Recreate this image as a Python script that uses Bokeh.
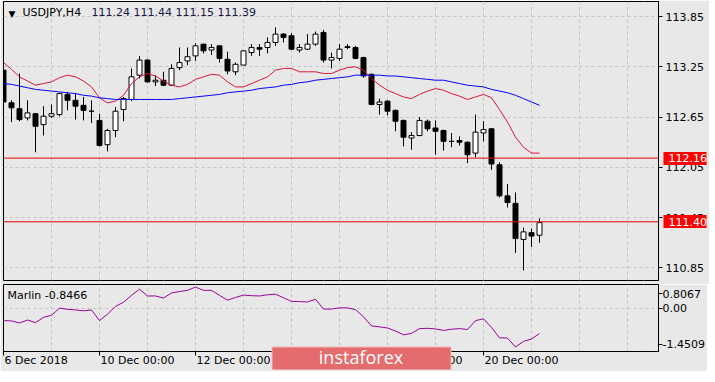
from bokeh.plotting import figure
from bokeh.layouts import column
from bokeh.models import (Range1d, FixedTicker, Grid, Span, Label, LinearAxis,
                          ColumnDataSource, PrintfTickFormatter)
from bokeh.embed import file_html
from bokeh.resources import INLINE

# ---------------- data (USDJPY H4, 6 Dec 2018 00:00 ... 21 Dec 2018 04:00) -------------
opens = [113.21, 112.82, 112.75, 112.64, 112.69, 112.56, 112.66, 112.68, 112.92, 112.85,
         112.79, 112.72, 112.61, 112.32, 112.49, 112.74, 112.86, 113.15, 113.33, 113.07,
         113.09, 113.03, 113.24, 113.32, 113.38, 113.52, 113.45, 113.50, 113.34, 113.19,
         113.27, 113.42, 113.48, 113.48, 113.54, 113.64, 113.62, 113.45, 113.46, 113.52,
         113.66, 113.33, 113.35, 113.49, 113.48, 113.36, 113.16, 112.80, 112.84, 112.73,
         112.61, 112.40, 112.43, 112.60, 112.52, 112.49, 112.36, 112.37, 112.35, 112.22,
         112.46, 112.51, 112.08, 111.71, 111.62, 111.19, 111.27, 111.24]
highs = [113.22, 112.85, 113.17, 112.85, 112.70, 112.78, 112.80, 112.94, 112.95, 112.93,
         112.89, 112.85, 112.69, 112.51, 112.77, 112.89, 113.23, 113.38, 113.34, 113.15,
         113.19, 113.28, 113.48, 113.48, 113.53, 113.52, 113.52, 113.50, 113.43, 113.30,
         113.45, 113.52, 113.52, 113.60, 113.72, 113.65, 113.65, 113.52, 113.64, 113.67,
         113.69, 113.42, 113.52, 113.52, 113.50, 113.37, 113.17, 112.87, 112.85, 112.74,
         112.62, 112.47, 112.65, 112.62, 112.61, 112.50, 112.46, 112.42, 112.36, 112.68,
         112.60, 112.52, 112.11, 111.85, 111.75, 111.33, 111.32, 111.44]
lows = [112.75, 112.59, 112.60, 112.61, 112.23, 112.43, 112.64, 112.66, 112.73, 112.62,
        112.61, 112.58, 112.30, 112.24, 112.41, 112.60, 112.84, 113.11, 113.06, 113.02,
        113.02, 113.02, 113.21, 113.27, 113.32, 113.41, 113.39, 113.30, 113.16, 113.15,
        113.27, 113.38, 113.38, 113.41, 113.50, 113.54, 113.45, 113.42, 113.45, 113.50,
        113.30, 113.23, 113.32, 113.46, 113.34, 113.12, 112.79, 112.68, 112.67, 112.48,
        112.30, 112.26, 112.42, 112.48, 112.20, 112.25, 112.29, 112.31, 112.10, 112.17,
        112.36, 112.02, 111.69, 111.57, 111.03, 110.82, 111.10, 111.15]
closes = [112.83, 112.76, 112.62, 112.70, 112.54, 112.66, 112.69, 112.93, 112.85, 112.78,
          112.73, 112.72, 112.31, 112.49, 112.72, 112.87, 113.13, 113.33, 113.07, 113.09,
          113.03, 113.23, 113.30, 113.37, 113.50, 113.44, 113.48, 113.35, 113.20, 113.28,
          113.44, 113.48, 113.46, 113.54, 113.64, 113.60, 113.46, 113.48, 113.52, 113.64,
          113.33, 113.36, 113.46, 113.48, 113.35, 113.14, 112.80, 112.83, 112.72, 112.60,
          112.41, 112.43, 112.61, 112.51, 112.48, 112.36, 112.36, 112.35, 112.20, 112.47,
          112.50, 112.09, 111.71, 111.63, 111.20, 111.28, 111.23, 111.39]

ma_fast = [113.30, 113.22, 113.13, 113.08, 113.03, 113.05, 113.07, 113.12, 113.15, 113.13,
           113.08, 113.01, 112.88, 112.82, 112.84, 112.91, 113.05, 113.13, 113.17, 113.14,
           113.08, 113.03, 113.01, 113.04, 113.10, 113.13, 113.16, 113.15, 113.07, 113.01,
           113.01, 113.05, 113.09, 113.13, 113.21, 113.23, 113.23, 113.19, 113.19, 113.19,
           113.17, 113.17, 113.21, 113.24, 113.25, 113.21, 113.11, 113.03, 112.97, 112.93,
           112.89, 112.87, 112.92, 112.96, 112.99, 112.97, 112.93, 112.90, 112.86, 112.89,
           112.92, 112.88, 112.74, 112.59, 112.41, 112.29, 112.22, 112.22]
ma_slow = [113.05, 113.04, 113.02, 113.00, 112.98, 112.97, 112.96, 112.95, 112.94, 112.93,
           112.91, 112.90, 112.88, 112.87, 112.86, 112.86, 112.86, 112.86, 112.86, 112.86,
           112.86, 112.86, 112.87, 112.88, 112.89, 112.90, 112.91, 112.92, 112.94, 112.95,
           112.96, 112.97, 112.99, 113.00, 113.01, 113.03, 113.04, 113.06, 113.07, 113.09,
           113.10, 113.11, 113.12, 113.13, 113.15, 113.15, 113.15, 113.15, 113.14, 113.14,
           113.13, 113.12, 113.11, 113.10, 113.09, 113.09, 113.07, 113.05, 113.03, 113.02,
           113.01, 112.98, 112.96, 112.94, 112.91, 112.87, 112.83, 112.79]
marlin = [-0.41, -0.42, -0.49, -0.39, -0.48, -0.30, -0.23, 0.01, -0.03, -0.05,
          -0.08, -0.05, -0.41, -0.19, 0.07, 0.21, 0.44, 0.65, 0.42, 0.42,
          0.35, 0.52, 0.57, 0.61, 0.72, 0.61, 0.61, 0.44, 0.28, 0.37,
          0.45, 0.43, 0.42, 0.46, 0.48, 0.36, 0.24, 0.23, 0.22, 0.31,
          -0.02, -0.02, 0.02, 0.02, -0.04, -0.28, -0.59, -0.62, -0.66, -0.76,
          -0.89, -0.84, -0.68, -0.67, -0.69, -0.74, -0.70, -0.68, -0.71, -0.41,
          -0.35, -0.64, -0.99, -1.00, -1.30, -1.11, -1.03, -0.8466]

day_ticks = [0, 6, 12, 18, 24, 30, 36, 42, 48, 54, 60, 66, 72, 78]
date_ticks = [0, 12, 24, 36, 48, 60]
date_labels = ["6 Dec 2018", "10 Dec 00:00", "12 Dec 00:00", "14 Dec 00:00",
               "18 Dec 00:00", "20 Dec 00:00"]
price_ticks = [113.85, 113.25, 112.65, 112.05, 111.45, 110.85]
levels = [112.16, 111.40]
marlin_max = 0.8067
marlin_min = -1.4509
title_symbol = "USDJPY,H4"
title_ohlc = "111.24 111.44 111.15 111.39"
marlin_title = "Marlin -0.8466"
watermark = "instaforex"

# ---------------- styling / geometry -------------
BG = "#e8e8e8"
GRID = "#c4c4c4"
FONT = "DejaVu Sans"
FS = "11px"
PX = 8.0                      # px per bar
FW = 655                      # frame width (px)
FH1 = 279                     # main frame height
FH2 = 67                      # indicator frame height
X0, X1 = 0.0, FW / PX
PPU = 83.8                    # px per 1.00 JPY on the price scale
Y_TOP = 113.85 + 15 / PPU
Y_BOT = Y_TOP - FH1 / PPU
PRICE_AXIS_W = 45             # width Bokeh gives the price scale panel

# DejaVu Sans advance widths (1/2048 em) used to left-align date labels
CW = {" ": 651, "D": 1577, "e": 1260, "c": 1126, ":": 690}
def text_px(s, size=11.0):
    return sum(CW.get(ch, 1303) for ch in s) * size / 2048.0

idx = list(range(len(opens)))
src = ColumnDataSource(dict(
    x=idx, o=opens, h=highs, l=lows, c=closes,
    top=[max(o, c) for o, c in zip(opens, closes)],
    bottom=[min(o, c) for o, c in zip(opens, closes)],
    fill=["white" if c >= o else "black" for o, c in zip(opens, closes)],
))

x_range = Range1d(X0, X1)

def style_axis(a, standoff):
    a.major_label_text_font = FONT
    a.major_label_text_font_size = FS
    a.major_label_text_color = "black"
    a.major_tick_out = 4
    a.major_tick_in = 0
    a.major_tick_line_color = "black"
    a.minor_tick_line_color = None
    a.minor_tick_out = 0
    a.axis_line_color = "black"
    a.major_label_standoff = standoff

# ---------------- main price panel -------------
p1 = figure(frame_width=FW, frame_height=FH1, x_range=x_range,
            y_range=Range1d(Y_BOT, Y_TOP),
            x_axis_location=None, y_axis_location="right",
            output_backend="svg", toolbar_location=None,
            background_fill_color=BG, border_fill_color=BG,
            outline_line_color="black", outline_line_width=1,
            min_border_left=3, min_border_top=1, min_border_bottom=4, min_border_right=0)

p1.add_layout(Grid(dimension=0, ticker=FixedTicker(ticks=day_ticks),
                   grid_line_color=GRID, grid_line_dash="3 3"))
p1.ygrid.ticker = FixedTicker(ticks=price_ticks)
p1.ygrid.grid_line_color = GRID
p1.ygrid.grid_line_dash = "3 3"
ax = p1.yaxis[0]
ax.ticker = FixedTicker(ticks=price_ticks)
ax.formatter = PrintfTickFormatter(format="%.2f")
style_axis(ax, 3)

p1.segment(x0="x", y0="l", x1="x", y1="h", source=src, line_color="black", line_width=1)
p1.vbar(x="x", width=0.62, top="top", bottom="bottom", fill_color="fill",
        line_color="black", line_width=1, source=src)
p1.line(idx, ma_fast, line_color="#dc143c", line_width=1)
p1.line(idx, ma_slow, line_color="#0000ff", line_width=1)

for lv in levels:
    p1.add_layout(Span(location=lv, dimension="width", line_color="#e00000", line_width=1))

# price-level tags on the price scale: a second right axis stacked after the
# price axis whose ticks reach back over it as red boxes with white labels
lvl_axis = LinearAxis(ticker=FixedTicker(ticks=levels),
                      formatter=PrintfTickFormatter(format="%.2f"))
lvl_axis.major_tick_in = PRICE_AXIS_W - 2
lvl_axis.major_tick_out = 0
lvl_axis.minor_tick_out = 0
lvl_axis.major_tick_line_width = 13
lvl_axis.major_tick_line_color = "#ff0000"
lvl_axis.major_tick_line_cap = "butt"
lvl_axis.minor_tick_line_color = None
lvl_axis.axis_line_color = None
lvl_axis.major_label_standoff = -38
lvl_axis.major_label_text_color = "white"
lvl_axis.major_label_text_font = FONT
lvl_axis.major_label_text_font_size = FS
p1.add_layout(lvl_axis, "right")

p1.add_layout(Label(x=5, y=FH1 - 7, x_units="screen", y_units="screen", text="\u25bc",
                    text_font=FONT, text_font_size="9px", text_color="black",
                    text_baseline="top"))
p1.add_layout(Label(x=19, y=FH1 - 4, x_units="screen", y_units="screen", text=title_symbol,
                    text_font=FONT, text_font_size=FS, text_color="black",
                    text_baseline="top"))
p1.add_layout(Label(x=88, y=FH1 - 4, x_units="screen", y_units="screen", text=title_ohlc,
                    text_font=FONT, text_font_size=FS, text_color="#1a1a44",
                    text_baseline="top"))

# ---------------- indicator panel -------------
p2 = figure(frame_width=FW, frame_height=FH2, x_range=x_range,
            y_range=Range1d(marlin_min, marlin_max),
            x_axis_location=None, y_axis_location="right",
            output_backend="svg", toolbar_location=None,
            background_fill_color=BG, border_fill_color=BG,
            outline_line_color="black", outline_line_width=1,
            min_border_left=3, min_border_top=0, min_border_bottom=15, min_border_right=0)

p2.add_layout(Grid(dimension=0, ticker=FixedTicker(ticks=day_ticks),
                   grid_line_color=GRID, grid_line_dash="3 3"))
p2.ygrid.ticker = FixedTicker(ticks=[0])
p2.ygrid.grid_line_color = GRID
p2.ygrid.grid_line_dash = "3 3"

span = marlin_max - marlin_min
t_top = round(marlin_max - span * 9 / FH2, 3)
t_bot = round(marlin_min + span * 7 / FH2, 3)
ya = p2.yaxis[0]
ya.ticker = FixedTicker(ticks=[t_top, 0, t_bot])
ya.major_label_overrides = {t_top: "%.4f" % marlin_max, 0: "0.00", t_bot: "%.4f" % marlin_min}
style_axis(ya, 0)

p2.line(idx, marlin, line_color="#990099", line_width=1)

p2.add_layout(Label(x=4, y=FH2 - 4, x_units="screen", y_units="screen", text=marlin_title,
                    text_font=FONT, text_font_size=FS, text_color="black",
                    text_baseline="top"))

# date axis: labels start at their tick (MT4 style)
date_centers = [t + (text_px(s) / 2 + 1) / PX for t, s in zip(date_ticks, date_labels)]
xa = LinearAxis(ticker=FixedTicker(ticks=date_centers, minor_ticks=date_ticks),
                major_label_overrides={c: s for c, s in zip(date_centers, date_labels)})
xa.major_label_text_font = FONT
xa.major_label_text_font_size = FS
xa.major_label_text_color = "black"
xa.major_tick_line_color = None
xa.major_tick_out = 4
xa.major_tick_in = 0
xa.minor_tick_out = 4
xa.minor_tick_in = 0
xa.minor_tick_line_color = "black"
xa.axis_line_color = "black"
xa.major_label_standoff = -2
p2.add_layout(xa, "below")

# watermark box over the bottom of the chart (ticks reaching back up)
DATE_AXIS_H = 15
wm_x = (FW / 2 + 30) / PX
for width, color, label, tin in [(180, "#f4b8b8", "", DATE_AXIS_H + 8),
                                 (178, "#e46c6c", watermark, DATE_AXIS_H + 7)]:
    wa = LinearAxis(ticker=FixedTicker(ticks=[wm_x]),
                    major_label_overrides={wm_x: label})
    wa.major_tick_in = tin
    wa.major_tick_out = 0
    wa.minor_tick_out = 0
    wa.major_tick_line_width = width
    wa.major_tick_line_color = color
    wa.major_tick_line_cap = "butt"
    wa.minor_tick_line_color = None
    wa.axis_line_color = None
    wa.major_label_standoff = -25
    wa.major_label_text_color = "white"
    wa.major_label_text_font = "Open Sans"
    wa.major_label_text_font_size = "18px"
    p2.add_layout(wa, "below")

layout = column(p1, p2, spacing=0)

open("out.html", "w").write(file_html(layout, INLINE))
